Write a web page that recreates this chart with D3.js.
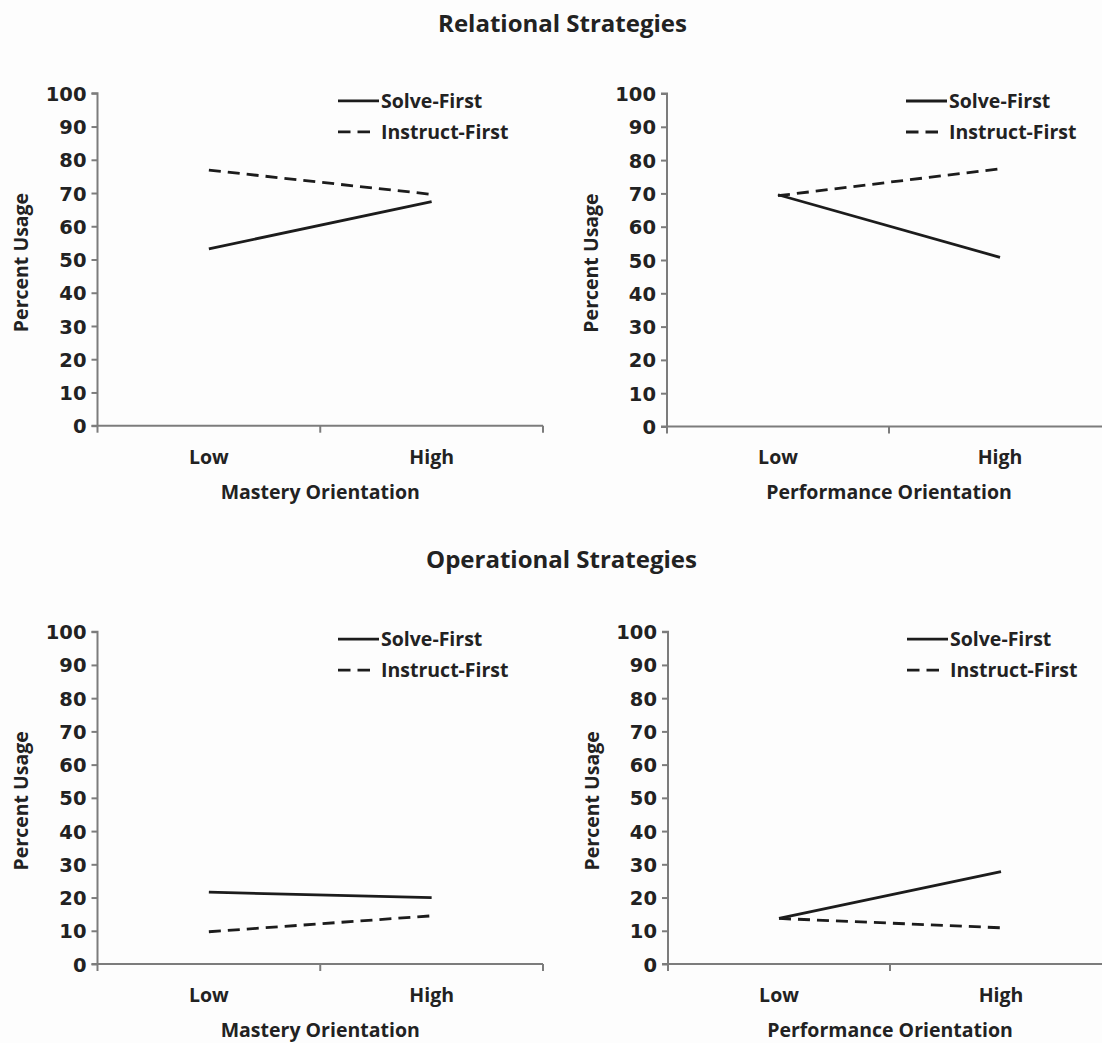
<!DOCTYPE html>
<html>
<head>
<meta charset="utf-8">
<script src="https://cdn.jsdelivr.net/npm/d3@7"></script>
<style>
  html, body { margin: 0; padding: 0; background: #fdfdfd; overflow: hidden; }
  svg { display: block; }
  text { font-family: "Open Sans", "DejaVu Sans", sans-serif; font-weight: 700; fill: #222; }
  .num { font-family: "DejaVu Sans", sans-serif; font-weight: 700; }
</style>
</head>
<body>
<script>
// ---------------- data ----------------
const categories = ["Low", "High"];
const yTickValues = [0, 10, 20, 30, 40, 50, 60, 70, 80, 90, 100];
const seriesNames = ["Solve-First", "Instruct-First"];
const sectionTitles = ["Relational Strategies", "Operational Strategies"];
const xAxisTitles = ["Mastery Orientation", "Performance Orientation"];
const yAxisTitle = "Percent Usage";

const relationalMasterySolve = [53.2, 67.4];
const relationalMasteryInstruct = [76.9, 69.6];
const relationalPerformanceSolve = [69.6, 50.8];
const relationalPerformanceInstruct = [69.3, 77.4];
const operationalMasterySolve = [21.6, 20.0];
const operationalMasteryInstruct = [9.7, 14.5];
const operationalPerformanceSolve = [13.7, 27.8];
const operationalPerformanceInstruct = [13.7, 10.9];

// ---------------- layout ----------------
const W = 1102, H = 1043;
const svg = d3.select("body").append("svg").attr("width", W).attr("height", H);

const panels = [
  { x0: 97.5, x1: 543,  y0: 93.3,  y1: 425.7, xt: xAxisTitles[0], s: relationalMasterySolve,      i: relationalMasteryInstruct },
  { x0: 667,  x1: 1111, y0: 93.5,  y1: 426.5, xt: xAxisTitles[1], s: relationalPerformanceSolve,  i: relationalPerformanceInstruct },
  { x0: 97.5, x1: 543,  y0: 631.7, y1: 964,   xt: xAxisTitles[0], s: operationalMasterySolve,     i: operationalMasteryInstruct },
  { x0: 668,  x1: 1112, y0: 631.7, y1: 964,   xt: xAxisTitles[1], s: operationalPerformanceSolve, i: operationalPerformanceInstruct }
];

svg.append("text").attr("x", 562.5).attr("y", 32).attr("text-anchor", "middle")
  .style("font-size", "24px").text(sectionTitles[0]);
svg.append("text").attr("x", 561.5).attr("y", 568).attr("text-anchor", "middle")
  .style("font-size", "24px").text(sectionTitles[1]);

const axisColor = "#7c7c7c";
const lineColor = "#1c1c1c";

panels.forEach(p => {
  const g = svg.append("g");
  const x = d3.scaleBand().domain(categories).range([p.x0, p.x1]);
  const y = d3.scaleLinear().domain([0, 100]).range([p.y1, p.y0]);

  // y axis
  const ya = g.append("g").attr("transform", `translate(${p.x0},0)`)
    .call(d3.axisLeft(y).tickValues(yTickValues).tickSize(6).tickPadding(5));
  ya.select(".domain").attr("stroke", axisColor).attr("stroke-width", 2).attr("d", `M-6,${p.y0}H0V${p.y1}`);
  ya.selectAll(".tick line").attr("stroke", axisColor).attr("stroke-width", 2);
  ya.selectAll(".tick text").attr("class", "num").style("font-size", "19.5px")
    .attr("fill", "#222").attr("dy", "0.36em");

  // x axis: ticks at band boundaries
  const xa = g.append("g").attr("transform", `translate(0,${p.y1})`);
  xa.append("line").attr("x1", p.x0 - 6).attr("x2", p.x1).attr("stroke", axisColor).attr("stroke-width", 2);
  const bounds = [p.x0, p.x0 + x.step(), p.x1];
  xa.selectAll("line.tk").data(bounds).join("line").attr("class", "tk")
    .attr("x1", d => d).attr("x2", d => d).attr("y1", 0).attr("y2", 7)
    .attr("stroke", axisColor).attr("stroke-width", 2);
  xa.selectAll("text.cat").data(categories).join("text").attr("class", "cat")
    .attr("x", d => x(d) + x.bandwidth() / 2).attr("y", 31).attr("dy", "0.35em")
    .attr("text-anchor", "middle").style("font-size", "19.5px").text(d => d);

  // axis titles
  g.append("text").attr("x", (p.x0 + p.x1) / 2).attr("y", p.y1 + 66).attr("dy", "0.35em")
    .attr("text-anchor", "middle").style("font-size", "19.5px").text(p.xt);
  g.append("text").attr("transform", `translate(${p.x0 - 76},${(p.y0 + p.y1) / 2 + 3}) rotate(-90)`)
    .attr("dy", "0.35em").attr("text-anchor", "middle").style("font-size", "19.5px").text(yAxisTitle);

  // lines
  const line = d3.line().x((d, k) => x(categories[k]) + x.bandwidth() / 2).y(d => y(d));
  g.append("path").datum(p.s).attr("d", line).attr("fill", "none")
    .attr("stroke", lineColor).attr("stroke-width", 2.8);
  g.append("path").datum(p.i).attr("d", line).attr("fill", "none")
    .attr("stroke", lineColor).attr("stroke-width", 2.8).attr("stroke-dasharray", "12,7");

  // legend
  const lx = p.x1 - 205, ly = p.y0 + 7.5;
  seriesNames.forEach((name, k) => {
    const yy = ly + k * 31;
    g.append("line").attr("x1", lx).attr("x2", lx + (k === 1 ? 32 : 41)).attr("y1", yy).attr("y2", yy)
      .attr("stroke", lineColor).attr("stroke-width", 2.8)
      .attr("stroke-dasharray", k === 1 ? "12.5,7" : null);
    g.append("text").attr("x", lx + 43).attr("y", yy).attr("dy", "0.36em")
      .style("font-size", "19.5px").text(name);
  });
});
</script>
</body>
</html>
